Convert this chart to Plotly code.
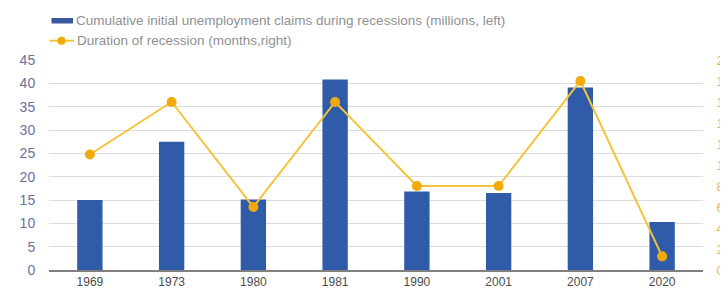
import plotly.graph_objects as go

years = ["1969", "1973", "1980", "1981", "1990", "2001", "2007", "2020"]
claims = [15.0, 27.5, 15.1, 40.8, 16.8, 16.5, 39.1, 10.3]
duration = [11, 16, 6, 16, 8, 8, 18, 1.3]

bar_name = "Cumulative initial unemployment claims during recessions (millions, left)"
line_name = "Duration of recession (months,right)"

BAR_COLOR = "#2f5ba8"
LINE_COLOR = "#f3c33a"
MARK_COLOR = "#f1aa0a"

# page has an 8px body margin; positions below are page pixels
OFF = 8
L, T, W, H = 49, 60, 654, 210   # plot area in page pixels
FW, FH = 728, 295

fig = go.Figure()
fig.add_trace(go.Bar(
    x=years, y=claims, name=bar_name, showlegend=False,
    marker=dict(color=BAR_COLOR, line=dict(width=0)),
    width=0.31, yaxis="y",
))
fig.add_trace(go.Scatter(
    x=years, y=duration, name=line_name, mode="lines+markers", showlegend=False,
    line=dict(color=LINE_COLOR, width=2),
    marker=dict(color=MARK_COLOR, size=10),
    yaxis="y2",
))

def px(x):
    return (x - L) / W
def py(y):
    return (T + H - y) / H

shapes = [
    dict(type="rect", xref="paper", yref="paper",
         x0=px(51.5), x1=px(73), y0=py(23.5), y1=py(18),
         fillcolor="#3a5a9e", line=dict(width=0)),
    dict(type="line", xref="paper", yref="paper",
         x0=px(49.5), x1=px(74), y0=py(40.7), y1=py(40.7),
         line=dict(color=LINE_COLOR, width=2)),
    dict(type="circle", xref="paper", yref="paper",
         x0=px(57.5), x1=px(65.5), y0=py(44.7), y1=py(36.7),
         fillcolor=MARK_COLOR, line=dict(width=0)),
]
annotations = [
    dict(text=bar_name, xref="paper", yref="paper", x=px(73.5), y=py(20.7),
         xanchor="left", yanchor="middle", showarrow=False,
         font=dict(size=13.5, color="#909090")),
    dict(text=line_name, xref="paper", yref="paper", x=px(74.5), y=py(40.7),
         xanchor="left", yanchor="middle", showarrow=False,
         font=dict(size=13.5, color="#909090")),
]

fig.update_layout(
    width=FW, height=FH,
    margin=dict(l=L - OFF, r=FW - (L + W - OFF), t=T - OFF, b=FH - (T + H - OFF)),
    paper_bgcolor="white", plot_bgcolor="white",
    font=dict(family="Liberation Sans, Arial, sans-serif"),
    showlegend=False,
    shapes=shapes, annotations=annotations,
    bargap=0.69,
    xaxis=dict(
        type="category", showgrid=False, showline=True,
        linecolor="#808080", linewidth=1.5, automargin=False,
        tickfont=dict(size=12, color="#4a4a4a"),
        ticks="", range=[-0.5, 7.5],
    ),
    yaxis=dict(
        range=[0, 45], dtick=5, showgrid=True, gridcolor="#dcdcdc",
        gridwidth=1, zeroline=False, showline=False, automargin=False,
        tickfont=dict(size=14, color="#6b70a0"),
        ticks="outside", ticklen=10, tickcolor="rgba(0,0,0,0)",
    ),
    yaxis2=dict(
        range=[0, 20], dtick=2, overlaying="y", side="right",
        showgrid=False, zeroline=False, showline=False, automargin=False,
        tickfont=dict(size=13, color="#f2b840"),
        ticks="outside", ticklen=10, tickcolor="rgba(0,0,0,0)",
    ),
)

fig.write_html("out.html")
